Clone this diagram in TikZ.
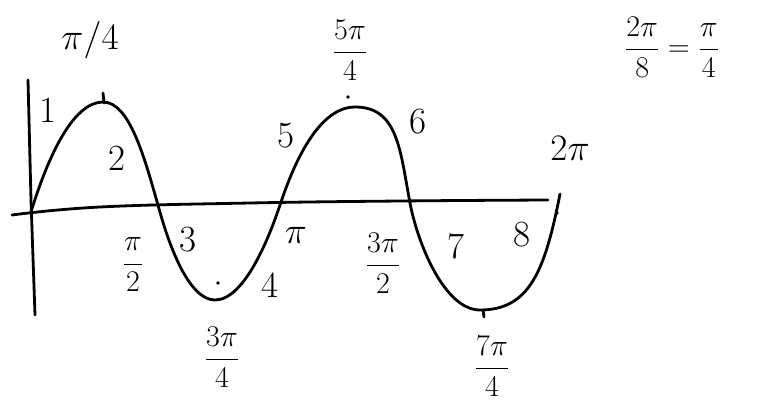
\documentclass[tikz,border=0pt]{standalone}
\usepackage{graphicx}
\newcommand\skfr[1]{\scalebox{1.45}{\fontsize{20.74}{24}\selectfont$\displaystyle #1$}}
\newcommand\skmt[1]{\scalebox{1.5}{\fontsize{24.88}{28}\selectfont$#1$}}
\begin{document}
\begin{tikzpicture}[x=1pt,y=-1pt,
  pen/.style={line width=2.8pt,line cap=round,line join=round},
  lbl/.style={inner sep=0pt,font=\fontsize{37}{42}\selectfont},
  frc/.style={inner sep=0pt}]
\useasboundingbox (0,0) rectangle (757,415);
% axes
\draw[pen] (28,80) -- (31,200) -- (35,315);
\draw[pen] plot[smooth,tension=0.7] coordinates {(12,215) (100,207) (250,203) (400,201) (548,200)};
% curve
\draw[pen] (31,212) .. controls (50,150) and (75,102) .. (103,102)
  .. controls (130,102) and (145,160) .. (158,205)
  .. controls (170,250) and (190,300) .. (215,300)
  .. controls (245,300) and (270,235) .. (280,205)
  .. controls (290,175) and (315,107) .. (355,107)
  .. controls (398,107) and (400,150) .. (410,203)
  .. controls (418,245) and (445,310) .. (480,310)
  .. controls (530,310) and (545,270) .. (560,194);
% ticks and dots
\draw[pen] (103,93) -- (104,103);
\draw[pen] (483,310) -- (484,317);
\fill (348,97) circle (1.8);
\fill (218,283) circle (1.8);
\fill (557,213) circle (1.8);
% labels
\node[frc] (q1) at (90,40) {\skmt{\pi/4}};
\node[lbl] (n1) at (48,110) {1};
\node[lbl] (n2) at (117,158) {2};
\node[lbl] (n3) at (188,240) {3};
\node[lbl] (n4) at (270,285) {4};
\node[lbl] (n5) at (286,136) {5};
\node[lbl] (n6) at (418,122) {6};
\node[lbl] (n7) at (456,246) {7};
\node[lbl] (n8) at (522,235) {8};
\node[frc] (pi) at (296,235) {\skmt{\pi}};
\node[frc] (tp) at (570,148) {\skmt{2\pi}};
\node[frc] (h2) at (133,265) {\skfr{\frac{\pi}{2}}};
\node[frc] (t34) at (222,357) {\skfr{\frac{3\pi}{4}}};
\node[frc] (f54) at (350,50) {\skfr{\frac{5\pi}{4}}};
\node[frc] (t32) at (383,263) {\skfr{\frac{3\pi}{2}}};
\node[frc] (s74) at (492,366) {\skfr{\frac{7\pi}{4}}};
\node[frc] (eq) at (672,47) {\skfr{\frac{2\pi}{8}=\frac{\pi}{4}}};
\end{tikzpicture}
\end{document}
